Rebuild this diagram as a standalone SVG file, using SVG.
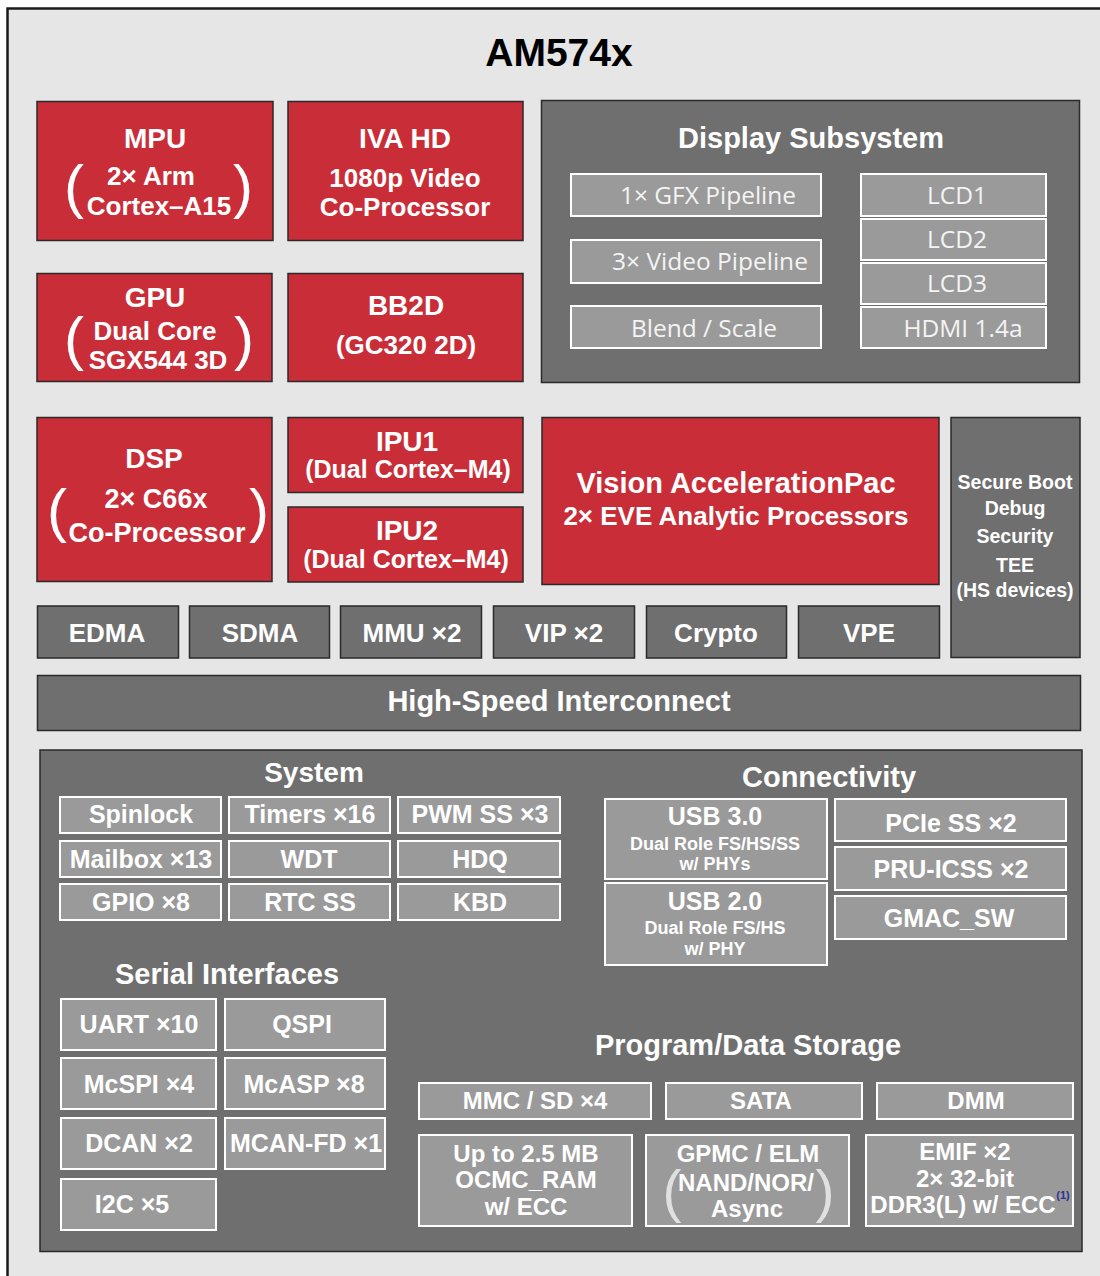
<svg xmlns="http://www.w3.org/2000/svg" width="1100" height="1276" viewBox="0 0 1100 1276">
<style>
.red{fill:#C92D38;stroke:#2a2a2a;stroke-width:1.5}
.dark{fill:#6F6F6F;stroke:#2a2a2a;stroke-width:1.5}
.lite{fill:#9A9A9A;stroke:#FFFFFF;stroke-width:2}
.t{font-family:"Liberation Sans",Arial,Helvetica,sans-serif;font-weight:bold;fill:#FFFFFF;text-anchor:middle}
.h{font-size:28px}
.s{font-size:26px}
.m{font-size:25px}
.n{font-size:24px}
.x{font-size:18px}
.hd{font-size:29px}
.lt{font-family:"Open Sans","Noto Sans","DejaVu Sans",sans-serif;font-weight:normal;font-size:24.5px;fill:#F4F4F4;text-anchor:middle}
.par{font-family:"Liberation Sans",Arial,sans-serif;font-weight:normal;font-size:60px;fill:#FFFFFF;text-anchor:middle}
.par2{font-family:"Liberation Sans",Arial,sans-serif;font-weight:normal;font-size:57px;fill:#E0E0E0;text-anchor:middle}
</style>
<rect x="0" y="0" width="1100" height="1276" fill="#FFFFFF"/>
<rect id="frame" x="7.5" y="8.5" width="1110" height="1290" fill="#E6E6E6" stroke="#1A1A1A" stroke-width="2.5"/>
<text x="559" y="66" style="font-family:'Liberation Sans',Arial,sans-serif;font-weight:bold;font-size:39px;fill:#000;text-anchor:middle">AM574x</text>

<g id="mpu">
<rect class="red" x="37" y="101.5" width="236" height="139"/>
<text class="t h" x="155" y="148">MPU</text>
<text class="t s" x="151" y="185">2× Arm</text>
<text class="t s" x="159" y="215">Cortex–A15</text>
<text class="par" x="74" y="207">(</text>
<text class="par" x="243" y="207">)</text>
</g>
<g id="iva">
<rect class="red" x="288" y="101.5" width="235" height="139"/>
<text class="t h" x="405" y="148">IVA HD</text>
<text class="t s" x="405" y="187">1080p Video</text>
<text class="t s" x="405" y="216">Co-Processor</text>
</g>
<g id="gpu">
<rect class="red" x="37" y="273.5" width="235" height="108"/>
<text class="t h" x="155" y="307">GPU</text>
<text class="t s" x="155" y="340">Dual Core</text>
<text class="t s" x="158" y="369">SGX544 3D</text>
<text class="par" x="74" y="359">(</text>
<text class="par" x="244" y="359">)</text>
</g>
<g id="bb2d">
<rect class="red" x="288" y="273.5" width="235" height="108"/>
<text class="t h" x="406" y="315">BB2D</text>
<text class="t s" x="406" y="354">(GC320 2D)</text>
</g>

<g id="dss">
<rect class="dark" x="541.5" y="100.5" width="538" height="282"/>
<text class="t hd" x="811" y="148">Display Subsystem</text>
<rect class="lite" x="571" y="174" width="250" height="42"/>
<text class="lt" x="708" y="204">1× GFX Pipeline</text>
<rect class="lite" x="571" y="240" width="250" height="43"/>
<text class="lt" x="710" y="270">3× Video Pipeline</text>
<rect class="lite" x="571" y="306" width="250" height="42"/>
<text class="lt" x="704" y="337">Blend / Scale</text>
<rect class="lite" x="861" y="174" width="185" height="42"/>
<text class="lt" x="957" y="204">LCD1</text>
<rect class="lite" x="861" y="219" width="185" height="41"/>
<text class="lt" x="957" y="248">LCD2</text>
<rect class="lite" x="861" y="263" width="185" height="41"/>
<text class="lt" x="957" y="292">LCD3</text>
<rect class="lite" x="861" y="307" width="185" height="41"/>
<text class="lt" x="963" y="337">HDMI 1.4a</text>
</g>

<g id="dsp">
<rect class="red" x="37" y="417.5" width="235" height="164"/>
<text class="t h" x="154" y="468">DSP</text>
<text class="t" style="font-size:27px" x="156" y="508">2× C66x</text>
<text class="t" style="font-size:27px" x="157" y="542">Co-Processor</text>
<text class="par" x="57" y="531">(</text>
<text class="par" x="259" y="531">)</text>
</g>
<g id="ipu1">
<rect class="red" x="288" y="417.5" width="235" height="75"/>
<text class="t h" x="407" y="451">IPU1</text>
<text class="t m" x="408" y="478">(Dual Cortex–M4)</text>
</g>
<g id="ipu2">
<rect class="red" x="288" y="507" width="235" height="75"/>
<text class="t h" x="407" y="540">IPU2</text>
<text class="t m" x="406" y="568">(Dual Cortex–M4)</text>
</g>
<g id="eve">
<rect class="red" x="542" y="417.5" width="397" height="167"/>
<text class="t" style="font-size:29px" x="736" y="493">Vision AccelerationPac</text>
<text class="t" style="font-size:26px" x="736" y="525">2× EVE Analytic Processors</text>
</g>
<g id="security">
<rect class="dark" x="951" y="417.5" width="129" height="240"/>
<text class="t" style="font-size:19.5px" x="1015" y="489">Secure Boot</text>
<text class="t" style="font-size:19.5px" x="1015" y="515">Debug</text>
<text class="t" style="font-size:19.5px" x="1015" y="543">Security</text>
<text class="t" style="font-size:19.5px" x="1015" y="572">TEE</text>
<text class="t" style="font-size:19.5px" x="1015" y="597">(HS devices)</text>
</g>

<g id="edma"><rect class="dark" x="37.5" y="606" width="141" height="52"/><text class="t s" x="107" y="642">EDMA</text></g>
<g id="sdma"><rect class="dark" x="189.5" y="606" width="140" height="52"/><text class="t s" x="260" y="642">SDMA</text></g>
<g id="mmu"><rect class="dark" x="340.5" y="606" width="141" height="52"/><text class="t s" x="412" y="642">MMU ×2</text></g>
<g id="vip"><rect class="dark" x="493.5" y="606" width="141" height="52"/><text class="t s" x="564" y="642">VIP ×2</text></g>
<g id="crypto"><rect class="dark" x="646.5" y="606" width="140" height="52"/><text class="t s" x="716" y="642">Crypto</text></g>
<g id="vpe"><rect class="dark" x="798.5" y="606" width="141" height="52"/><text class="t s" x="869" y="642">VPE</text></g>

<g id="interconnect">
<rect class="dark" x="37.5" y="675.5" width="1043" height="55"/>
<text class="t hd" x="559" y="711">High-Speed Interconnect</text>
</g>

<g id="peripherals">
<rect class="dark" x="40" y="750" width="1042" height="501.5"/>
</g>

<g id="system">
<text class="t h" x="314" y="782">System</text>
<rect class="lite" x="60" y="797" width="161" height="36"/><text class="t m" x="141" y="823">Spinlock</text>
<rect class="lite" x="229" y="797" width="161" height="36"/><text class="t m" x="310" y="823">Timers ×16</text>
<rect class="lite" x="398" y="797" width="162" height="36"/><text class="t m" x="480" y="823">PWM SS ×3</text>
<rect class="lite" x="60" y="841" width="161" height="36"/><text class="t m" x="141" y="868">Mailbox ×13</text>
<rect class="lite" x="229" y="841" width="161" height="36"/><text class="t m" x="309" y="868">WDT</text>
<rect class="lite" x="398" y="841" width="162" height="36"/><text class="t m" x="480" y="868">HDQ</text>
<rect class="lite" x="60" y="884" width="161" height="36"/><text class="t m" x="141" y="911">GPIO ×8</text>
<rect class="lite" x="229" y="884" width="161" height="36"/><text class="t m" x="310" y="911">RTC SS</text>
<rect class="lite" x="398" y="884" width="162" height="36"/><text class="t m" x="480" y="911">KBD</text>
</g>

<g id="connectivity">
<text class="t hd" x="829" y="787">Connectivity</text>
<rect class="lite" x="605" y="799" width="222" height="80"/>
<text class="t m" x="715" y="825">USB 3.0</text>
<text class="t x" x="715" y="850">Dual Role FS/HS/SS</text>
<text class="t x" x="715" y="870">w/ PHYs</text>
<rect class="lite" x="605" y="883" width="222" height="82"/>
<text class="t m" x="715" y="910">USB 2.0</text>
<text class="t x" x="715" y="934">Dual Role FS/HS</text>
<text class="t x" x="715" y="955">w/ PHY</text>
<rect class="lite" x="835" y="799" width="231" height="42"/><text class="t m" x="951" y="832">PCIe SS ×2</text>
<rect class="lite" x="835" y="847" width="231" height="43"/><text class="t m" x="951" y="878">PRU-ICSS ×2</text>
<rect class="lite" x="835" y="896" width="231" height="43"/><text class="t m" x="949" y="927">GMAC_SW</text>
</g>

<g id="serial">
<text class="t hd" x="227" y="984">Serial Interfaces</text>
<rect class="lite" x="61" y="999" width="155" height="51"/><text class="t m" x="139" y="1033">UART ×10</text>
<rect class="lite" x="225" y="999" width="160" height="51"/><text class="t m" x="302" y="1033">QSPI</text>
<rect class="lite" x="61" y="1058" width="155" height="51"/><text class="t m" x="139" y="1093">McSPI ×4</text>
<rect class="lite" x="225" y="1058" width="160" height="51"/><text class="t m" x="304" y="1093">McASP ×8</text>
<rect class="lite" x="61" y="1118" width="155" height="51"/><text class="t m" x="139" y="1152">DCAN ×2</text>
<rect class="lite" x="225" y="1118" width="160" height="51"/><text class="t m" x="306" y="1152">MCAN-FD ×1</text>
<rect class="lite" x="61" y="1179" width="155" height="51"/><text class="t m" x="132" y="1213">I2C ×5</text>
</g>

<g id="storage">
<text class="t hd" x="748" y="1055">Program/Data Storage</text>
<rect class="lite" x="419" y="1083" width="232" height="36"/><text class="t n" x="535" y="1109">MMC / SD ×4</text>
<rect class="lite" x="666" y="1083" width="196" height="36"/><text class="t n" x="761" y="1109">SATA</text>
<rect class="lite" x="877" y="1083" width="196" height="36"/><text class="t n" x="976" y="1109">DMM</text>
<rect class="lite" x="419" y="1135" width="213" height="91"/>
<text class="t n" x="526" y="1162">Up to 2.5 MB</text>
<text class="t n" x="526" y="1188">OCMC_RAM</text>
<text class="t n" x="526" y="1215">w/ ECC</text>
<rect class="lite" x="646" y="1135" width="203" height="91"/>
<text class="t n" x="748" y="1162">GPMC / ELM</text>
<text class="t n" x="746" y="1191">NAND/NOR/</text>
<text class="t n" x="747" y="1217">Async</text>
<text class="par2" x="672" y="1211">(</text>
<text class="par2" x="825" y="1211">)</text>
<rect class="lite" x="866" y="1135" width="207" height="91"/>
<text class="t n" x="965" y="1160">EMIF ×2</text>
<text class="t n" x="965" y="1187">2× 32-bit</text>
<text class="t n" x="963" y="1213">DDR3(L) w/ ECC</text>
<text x="1063" y="1199" style="font-family:'Liberation Sans',Arial,sans-serif;font-weight:bold;font-size:11px;fill:#2E3192;text-anchor:middle">(1)</text>
</g>

<g id="connectors"></g>
</svg>
